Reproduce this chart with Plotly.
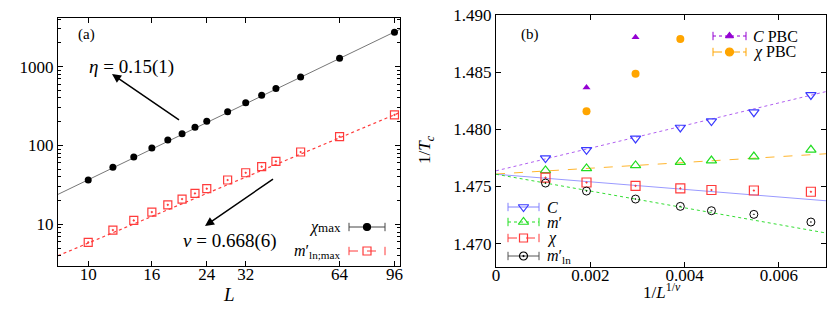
import math
import plotly.graph_objects as go

# ---------------- data: panel (a) ----------------
L_sizes = [10, 12, 14, 16, 18, 20, 22, 24, 28, 32, 36, 40, 48, 64, 96]
chi_max = [36.5, 52.9, 71.4, 93, 117, 141, 170, 203, 268, 349, 433, 526, 740, 1278, 2733]
mln_max = [5.91, 8.47, 11.2, 14.3, 17.7, 20.9, 24.7, 28.3, 36.5, 45.1, 53.8, 63.0, 82.7, 129.4, 243.8]
fit_L = [8, 100]
fit_chi = [24.0, 2970]
fit_mln = [4.0, 262]
a_xticks = [10, 16, 24, 32, 64, 96]
a_yticks = [10, 100, 1000]

# ---------------- data: panel (b) ----------------
invL = [0.00105, 0.00192, 0.00296, 0.00391, 0.00457, 0.00547, 0.00668]
Tc_C = [1.47748, 1.47821, 1.47920, 1.48016, 1.48072, 1.48150, 1.48301]
Tc_mp = [1.47640, 1.47658, 1.47684, 1.47713, 1.47727, 1.47762, 1.47821]
Tc_chi = [1.47577, 1.47535, 1.47506, 1.47483, 1.47469, 1.47465, 1.47454]
Tc_mln = [1.47530, 1.47460, 1.47390, 1.47326, 1.47288, 1.47256, 1.47189]
invL_CPBC = [0.00192, 0.00296]
Tc_CPBC = [1.48365, 1.48805]
invL_chiPBC = [0.00192, 0.00296, 0.00391]
Tc_chiPBC = [1.48159, 1.48485, 1.48790]
fit_x = [0.0, 0.007]
fit_C = [1.47637, 1.48330]
fit_mp = [1.47609, 1.47786]
fit_chi_b = [1.47607, 1.47375]
fit_mln_b = [1.47607, 1.47093]
b_xticks = [0, 0.002, 0.004, 0.006]
b_xticktext = ["0", "0.002", "0.004", "0.006"]
b_yticks = [1.470, 1.475, 1.480, 1.485, 1.490]

W, H = 830, 309
FONT = "Liberation Serif"
RED = "#ff3b3b"
BLUE = "#3a3aff"
GREEN = "#22dd22"
PURPLE = "#9400d3"
ORANGE = "#ffa500"

fig = go.Figure()

# panel (a)
fig.add_trace(go.Scatter(x=fit_L, y=fit_chi, mode="lines", line=dict(color="#777", width=1),
                         xaxis="x", yaxis="y", showlegend=False))
fig.add_trace(go.Scatter(x=fit_L, y=fit_mln, mode="lines", line=dict(color=RED, width=1.2, dash="dot"),
                         xaxis="x", yaxis="y", showlegend=False))
fig.add_trace(go.Scatter(x=L_sizes, y=chi_max, mode="markers",
                         marker=dict(symbol="circle", size=7, color="black"),
                         xaxis="x", yaxis="y", showlegend=False))
fig.add_trace(go.Scatter(x=L_sizes, y=mln_max, mode="markers",
                         marker=dict(symbol="square-open-dot", size=8, color=RED, line=dict(width=1.2)),
                         xaxis="x", yaxis="y", showlegend=False))

# panel (b) fit lines
fig.add_trace(go.Scatter(x=fit_x, y=fit_C, mode="lines", line=dict(color="#b060f0", width=1, dash="dot"),
                         xaxis="x2", yaxis="y2", showlegend=False))
fig.add_trace(go.Scatter(x=fit_x, y=fit_mp, mode="lines", line=dict(color="#ffb52e", width=1, dash="dash"),
                         xaxis="x2", yaxis="y2", showlegend=False))
fig.add_trace(go.Scatter(x=fit_x, y=fit_chi_b, mode="lines", line=dict(color="#9a9aff", width=1),
                         xaxis="x2", yaxis="y2", showlegend=False))
fig.add_trace(go.Scatter(x=fit_x, y=fit_mln_b, mode="lines", line=dict(color="#33dd33", width=1, dash="dot"),
                         xaxis="x2", yaxis="y2", showlegend=False))
# panel (b) points
fig.add_trace(go.Scatter(x=invL, y=Tc_C, mode="markers",
                         marker=dict(symbol="triangle-down-open", size=9, color=BLUE, line=dict(width=1.2)),
                         xaxis="x2", yaxis="y2", showlegend=False))
fig.add_trace(go.Scatter(x=invL, y=Tc_mp, mode="markers",
                         marker=dict(symbol="triangle-up-open", size=9, color=GREEN, line=dict(width=1.2)),
                         xaxis="x2", yaxis="y2", showlegend=False))
fig.add_trace(go.Scatter(x=invL, y=Tc_chi, mode="markers",
                         marker=dict(symbol="square-open-dot", size=9, color=RED, line=dict(width=1.2)),
                         xaxis="x2", yaxis="y2", showlegend=False))
fig.add_trace(go.Scatter(x=invL, y=Tc_mln, mode="markers",
                         marker=dict(symbol="circle-open-dot", size=8, color="black", line=dict(width=1)),
                         xaxis="x2", yaxis="y2", showlegend=False))
fig.add_trace(go.Scatter(x=invL_CPBC, y=Tc_CPBC, mode="markers",
                         marker=dict(symbol="triangle-up", size=7, color=PURPLE),
                         xaxis="x2", yaxis="y2", showlegend=False))
fig.add_trace(go.Scatter(x=invL_chiPBC, y=Tc_chiPBC, mode="markers",
                         marker=dict(symbol="circle", size=8, color=ORANGE),
                         xaxis="x2", yaxis="y2", showlegend=False))

# ---------------- custom legends (pixel overlay axes) ----------------
legend_items = [
    # (x0, x1, y, line color, dash, marker symbol, marker color, size, label, text x, anchor)
    (349, 385, 227, "#444", "solid", "circle", "black", 7,
     "<i>χ</i><span style='font-size:13px'>max</span>", 343, "right"),
    (349, 385, 251, RED, "dash", "square-open", RED, 8,
     "<i>m</i>′<sub>ln;max</sub>", 343, "right"),
    (508, 539, 207, "#8080ff", "solid", "triangle-down-open", BLUE, 9, "<i>C</i>", 545, "left"),
    (508, 539, 222, GREEN, "dot", "triangle-up-open", GREEN, 9, "<i>m</i>′", 545, "left"),
    (508, 539, 238, RED, "dash", "square-open", RED, 8, "<i>χ</i>", 545, "left"),
    (508, 539, 256, "#555", "solid", "circle-open-dot", "black", 8, "<i>m</i>′<sub>ln</sub>", 545, "left"),
    (713, 746, 36, PURPLE, "dot", "triangle-up", PURPLE, 7, "<i>C</i> PBC", 751, "left"),
    (713, 746, 52, ORANGE, "dashdot", "circle", ORANGE, 8, "<i>χ</i> PBC", 751, "left"),
]
annotations = []
for (x0, x1, yy, lc, dash, sym, mc, ms, label, tx, anchor) in legend_items:
    fig.add_trace(go.Scatter(x=[x0, x1], y=[yy, yy], mode="lines+markers",
                             line=dict(color=lc, width=1, dash=dash),
                             marker=dict(symbol="line-ns-open", size=6, color=lc, line=dict(width=1, color=lc)),
                             xaxis="x3", yaxis="y3", showlegend=False))
    fig.add_trace(go.Scatter(x=[(x0 + x1) / 2], y=[yy], mode="markers",
                             marker=dict(symbol=sym, size=ms, color=mc, line=dict(width=1.2, color=mc)),
                             xaxis="x3", yaxis="y3", showlegend=False))
    annotations.append(dict(x=tx, y=yy, xref="x3", yref="y3", text=label, showarrow=False,
                            xanchor=anchor, yanchor="middle", font=dict(size=16, family=FONT, color="black")))

# text labels and arrows
annotations += [
    dict(x=76, y=34, xref="x3", yref="y3", text="(a)", showarrow=False, xanchor="left",
         font=dict(size=15, family=FONT, color="black")),
    dict(x=519, y=34, xref="x3", yref="y3", text="(b)", showarrow=False, xanchor="left",
         font=dict(size=15, family=FONT, color="black")),
    dict(x=131, y=67, xref="x3", yref="y3", text="<i>η</i> = 0.15(1)", showarrow=False,
         font=dict(size=19, family=FONT, color="black")),
    dict(x=230, y=241, xref="x3", yref="y3", text="<i>ν</i> = 0.668(6)", showarrow=False,
         font=dict(size=19, family=FONT, color="black")),
    dict(x=112, y=74, xref="x3", yref="y3", ax=182, ay=122, axref="x3", ayref="y3", text=" ",
         showarrow=True, arrowhead=2, arrowsize=1.2, arrowwidth=1.5, arrowcolor="black"),
    dict(x=205, y=226, xref="x3", yref="y3", ax=276, ay=177, axref="x3", ayref="y3", text=" ",
         showarrow=True, arrowhead=2, arrowsize=1.2, arrowwidth=1.5, arrowcolor="black"),
    dict(x=229, y=294, xref="x3", yref="y3", text="<i>L</i>", showarrow=False,
         font=dict(size=19, family=FONT, color="black")),
    dict(x=662, y=291, xref="x3", yref="y3", text="1/<i>L</i><sup>1/<i>ν</i></sup>", showarrow=False,
         font=dict(size=17, family=FONT, color="black")),
    dict(x=426, y=150, xref="x3", yref="y3", text="1/<i>T</i><sub><i>c</i></sub>", showarrow=False,
         textangle=-90, font=dict(size=17, family=FONT, color="black")),
]

axis_common = dict(showline=True, linecolor="black", linewidth=1, mirror="ticks", ticks="inside",
                   ticklen=5, tickcolor="black", showgrid=False, zeroline=False, automargin=False,
                   tickfont=dict(size=17, family=FONT, color="black"))

a_minor = [v * 10 ** e for e in range(0, 4) for v in range(2, 10) if 3 <= v * 10 ** e <= 4100]

fig.update_layout(
    width=W, height=H, margin=dict(l=0, r=0, t=0, b=0),
    paper_bgcolor="white", plot_bgcolor="rgba(0,0,0,0)", template="none",
    font=dict(family=FONT, color="black"),
    showlegend=False,
    xaxis=dict(axis_common, type="log", domain=[58 / W, 400 / W], range=[math.log10(8), 2.0],
               tickvals=a_xticks, ticktext=[str(v) for v in a_xticks], anchor="y",
               ticklabelstandoff=-7),
    yaxis=dict(axis_common, type="log", domain=[1 - 266 / H, 1 - 18 / H], range=[0.472, 3.616],
               tickvals=a_yticks, ticktext=[str(v) for v in a_yticks], anchor="x",
               minor=dict(tickvals=a_minor, ticks="inside", ticklen=3, tickcolor="black", showgrid=False)),
    xaxis2=dict(axis_common, domain=[496 / W, 826 / W], range=[0, 0.007],
                tickvals=b_xticks, ticktext=b_xticktext, anchor="y2", ticklabelstandoff=-7),
    yaxis2=dict(axis_common, domain=[1 - 266.5 / H, 1 - 15 / H], range=[1.468, 1.490],
                tickvals=b_yticks, ticktext=[f"{v:.3f}" for v in b_yticks], anchor="x2"),
    xaxis3=dict(domain=[0, 1], range=[0, W], visible=False, anchor="y3", fixedrange=True),
    yaxis3=dict(domain=[0, 1], range=[H, 0], visible=False, anchor="x3", fixedrange=True),
    annotations=annotations,
)

fig.write_html("out.html", config={"displayModeBar": False},
               post_script="document.body.style.margin='0';document.body.style.padding='0';")
